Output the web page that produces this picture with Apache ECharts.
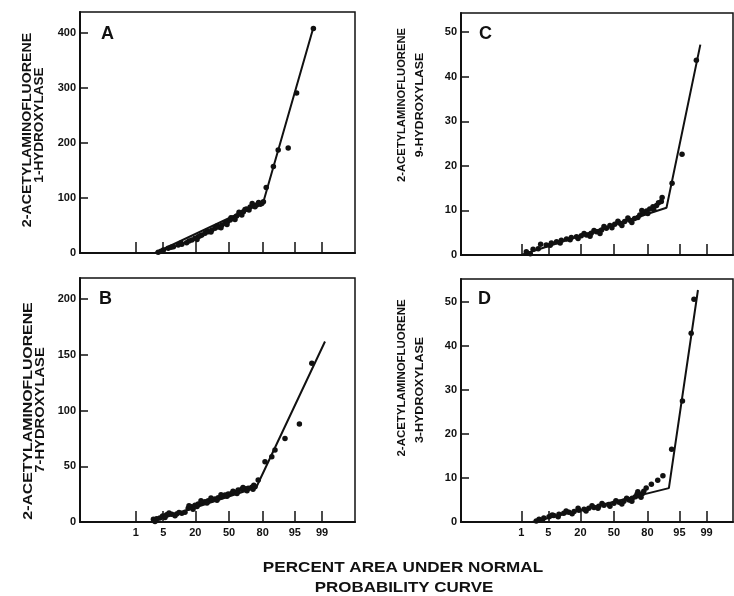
<!DOCTYPE html>
<html>
<head>
<meta charset="utf-8">
<script src="https://cdn.jsdelivr.net/npm/echarts@6.0.0/dist/echarts.min.js"></script>
<style>
  html, body { margin: 0; background: #fff; }
  #chart { width: 734px; height: 596px; }
</style>
</head>
<body>
<div id="chart"></div>
<script>
// x values are normal deviates (probit of the percent area), y values are enzyme activity
var percentTicks = [1, 5, 20, 50, 80, 95, 99];
var yTicksA = [0, 100, 200, 300, 400];
var yTicksB = [0, 50, 100, 150, 200];
var yTicksC = [0, 10, 20, 30, 40, 50];
var yTicksD = [0, 10, 20, 30, 40, 50];

// A: 1-hydroxylase
var pointsA = [
  [-1.77, 1.2], [-1.64, 5.5], [-1.52, 8.5], [-1.39, 11.5], [-1.27, 14.5], [-1.18, 15.8],
  [-1.06, 18.8], [-0.93, 23.6], [-0.85, 26.7], [-0.77, 29.7], [-0.68, 32.7], [-0.6, 35.8],
  [-0.52, 38.8], [-0.43, 41.8], [-0.35, 44.8], [-0.27, 47.3], [-0.18, 50.9], [-0.1, 53.9],
  [-0.04, 57], [0.03, 60], [0.11, 63], [0.19, 67.3], [0.28, 70.9], [0.36, 75], [0.44, 80],
  [0.53, 83.6], [0.61, 86], [0.69, 87.3], [0.78, 88.5], [0.86, 93],
  [-1.7, 3], [-1.45, 10.5], [-1.2, 18], [-1.0, 22], [-0.8, 24.5], [-0.72, 31.5],
  [-0.55, 40], [-0.45, 38], [-0.3, 49], [-0.2, 46], [-0.05, 52], [0.05, 64], [0.15, 61],
  [0.25, 74], [0.32, 69], [0.4, 79], [0.5, 78], [0.58, 90], [0.65, 84], [0.74, 92], [0.82, 90],
  [0.93, 119], [1.11, 157], [1.23, 187], [1.48, 191], [1.69, 291], [2.11, 408]
];
var fitA = [[-1.85, 0], [0.86, 93], [2.11, 410]];

// B: 7-hydroxylase
var pointsB = [
  [-1.89, 2.4], [-1.81, 3.0], [-1.73, 3.6], [-1.66, 5.4], [-1.56, 6.6], [-1.43, 6.9],
  [-1.31, 7.2], [-1.18, 7.8], [-1.1, 8.7], [-1.02, 12.3], [-0.93, 13.7], [-0.85, 15],
  [-0.77, 16.2], [-0.68, 17.3], [-0.6, 18.2], [-0.52, 19.1], [-0.43, 19.7], [-0.35, 20.6],
  [-0.27, 21.8], [-0.18, 22.7], [-0.1, 24.2], [-0.02, 25.1], [0.07, 25.7], [0.15, 26.6],
  [0.23, 28.7], [0.32, 29.3], [0.4, 29.9], [0.48, 30.2], [0.57, 31.1], [0.65, 31.7],
  [-1.85, 0.5], [-1.6, 4], [-1.5, 8], [-1.35, 5.5], [-1.25, 8.5], [-1.0, 14.5], [-0.9, 11.5],
  [-0.8, 14], [-0.7, 19], [-0.55, 17], [-0.45, 21.5], [-0.3, 19.5], [-0.2, 24.5], [-0.05, 23],
  [0.1, 27.5], [0.2, 25.5], [0.35, 31], [0.45, 28], [0.6, 29.5], [0.62, 33],
  [0.73, 37.7], [0.9, 54], [1.07, 58.6], [1.15, 64.6], [1.4, 75], [1.76, 88], [2.07, 142.4]
];
var fitB = [[-1.95, 0], [0.68, 31], [2.4, 162]];

// C: 9-hydroxylase
var pointsC = [
  [-2.2, 0.75], [-2.03, 1.27], [-1.84, 2.4], [-1.7, 2.24], [-1.57, 2.7], [-1.44, 3.0],
  [-1.32, 3.3], [-1.19, 3.6], [-1.07, 3.9], [-0.94, 4.1], [-0.82, 4.3], [-0.69, 4.5],
  [-0.57, 4.9], [-0.44, 5.2], [-0.31, 5.6], [-0.19, 6.0], [-0.1, 6.6], [0.02, 6.9],
  [0.15, 7.1], [0.27, 7.5], [0.4, 7.8], [0.52, 8.2], [0.65, 9.0], [0.73, 9.3], [0.82, 9.9],
  [0.9, 10.3], [0.98, 10.8], [1.07, 11.1], [1.19, 12.0],
  [-2.1, 0.3], [-1.9, 1.4], [-1.6, 2.2], [-1.35, 2.7], [-1.1, 3.4], [-0.9, 3.7], [-0.75, 4.8],
  [-0.6, 4.2], [-0.5, 5.5], [-0.35, 4.8], [-0.25, 6.4], [-0.05, 6.1], [0.1, 7.6], [0.2, 6.6],
  [0.35, 8.3], [0.45, 7.3], [0.6, 8.4], [0.7, 10], [0.85, 9.3], [1.0, 10.2], [1.12, 11.7],
  [1.21, 12.9], [1.46, 16.1], [1.71, 22.6], [2.07, 43.7]
];
var fitC = [[-2.33, 0], [1.32, 10.6], [2.17, 47.2]];

// D: 3-hydroxylase
var pointsD = [
  [-1.88, 0.6], [-1.76, 0.9], [-1.63, 1.2], [-1.51, 1.5], [-1.38, 1.75], [-1.26, 2.0],
  [-1.13, 2.2], [-1.0, 2.4], [-0.88, 2.65], [-0.75, 2.9], [-0.63, 3.1], [-0.5, 3.3],
  [-0.38, 3.6], [-0.25, 3.8], [-0.13, 4.0], [0, 4.25], [0.13, 4.5], [0.25, 4.7], [0.38, 5.0],
  [0.46, 5.4], [0.54, 5.75], [0.63, 6.0], [0.71, 6.4],
  [-1.95, 0.2], [-1.8, 0.4], [-1.55, 1.6], [-1.4, 1.2], [-1.2, 2.5], [-1.05, 1.9], [-0.9, 3.1],
  [-0.7, 2.5], [-0.55, 3.7], [-0.4, 3.1], [-0.3, 4.2], [-0.1, 3.6], [0.05, 4.8], [0.2, 4.1],
  [0.32, 5.4], [0.45, 4.7], [0.58, 6.3], [0.68, 5.6], [0.75, 7.0], [0.6, 6.9],
  [0.81, 7.7], [0.94, 8.6], [1.1, 9.5], [1.23, 10.5], [1.45, 16.5], [1.72, 27.5],
  [1.94, 42.9], [2.01, 50.6]
];
var fitD = [[-2.05, 0], [1.38, 7.7], [2.11, 52.7]];

var INK = '#111';
var FONT = 'Liberation Sans, Arial, sans-serif';

// inverse normal (Abramowitz & Stegun 26.2.23), p in (0,1)
function probit(p) {
  var q = p < 0.5 ? p : 1 - p;
  var t = Math.sqrt(-2 * Math.log(q));
  var z = t - (2.515517 + 0.802853 * t + 0.010328 * t * t) /
    (1 + 1.432788 * t + 0.189269 * t * t + 0.001308 * t * t * t);
  return p < 0.5 ? -z : z;
}
var tickZ = percentTicks.map(function (p) { return probit(p / 100); });

var panels = [
  { letter: 'A', grid: { left: 80, right: 379, top: 12, bottom: 343 }, xMin: -3.725, xMax: 3.15, yMax: 438, yTicks: yTicksA, points: pointsA, fit: fitA, xLabels: false },
  { letter: 'C', grid: { left: 461, right: 1, top: 13, bottom: 341 }, xMin: -3.84, xMax: 2.99, yMax: 54.3, yTicks: yTicksC, points: pointsC, fit: fitC, xLabels: false },
  { letter: 'B', grid: { left: 80, right: 379, top: 278, bottom: 74 }, xMin: -3.725, xMax: 3.15, yMax: 219, yTicks: yTicksB, points: pointsB, fit: fitB, xLabels: true },
  { letter: 'D', grid: { left: 461, right: 1, top: 279, bottom: 74 }, xMin: -3.84, xMax: 2.99, yMax: 55.2, yTicks: yTicksD, points: pointsD, fit: fitD, xLabels: true }
];

var grids = [], xAxes = [], yAxes = [], series = [];
panels.forEach(function (p, i) {
  grids.push(Object.assign({ show: true, borderColor: INK, borderWidth: 1.5, outerBoundsMode: 'none' }, p.grid));
  xAxes.push({
    type: 'value', gridIndex: i, min: p.xMin, max: p.xMax,
    axisLine: { show: true, onZero: false, lineStyle: { color: INK, width: 2 } },
    axisTick: { show: true, inside: true, length: 11, customValues: tickZ, lineStyle: { color: INK, width: 1.5 } },
    axisLabel: {
      show: p.xLabels, customValues: tickZ, margin: 5,
      color: INK, fontFamily: FONT, fontWeight: 'bold', fontSize: 11,
      formatter: function (v) {
        for (var k = 0; k < tickZ.length; k++) {
          if (Math.abs(tickZ[k] - v) < 1e-6) return String(percentTicks[k]);
        }
        return '';
      }
    },
    splitLine: { show: false }
  });
  yAxes.push({
    type: 'value', gridIndex: i, min: 0, max: p.yMax,
    axisLine: { show: true, onZero: false, lineStyle: { color: INK, width: 2 } },
    axisTick: { show: true, inside: true, length: 8, customValues: p.yTicks, lineStyle: { color: INK, width: 1.5 } },
    axisLabel: { customValues: p.yTicks, margin: 4, color: INK, fontFamily: FONT, fontWeight: 'bold', fontSize: 11 },
    splitLine: { show: false }
  });
  series.push({
    type: 'line', xAxisIndex: i, yAxisIndex: i, data: p.fit,
    showSymbol: false, silent: true,
    lineStyle: { color: INK, width: 2 }
  });
  series.push({
    type: 'scatter', xAxisIndex: i, yAxisIndex: i, data: p.points,
    symbolSize: 5.5, itemStyle: { color: INK, opacity: 1 }
  });
});

// rotated two-line axis titles and other text
function vText(text, x, y, size, stretch) {
  return {
    type: 'text', x: x, y: y, rotation: Math.PI / 2, scaleX: stretch,
    style: {
      text: text, font: 'bold ' + size + 'px ' + FONT, fill: INK,
      textAlign: 'center', textVerticalAlign: 'middle'
    }
  };
}
function hText(text, x, y, size, stretch) {
  return {
    type: 'text', x: x, y: y, scaleX: stretch || 1,
    style: {
      text: text, font: 'bold ' + size + 'px ' + FONT, fill: INK,
      textAlign: 'center', textVerticalAlign: 'middle'
    }
  };
}

var graphics = [
  vText('2-ACETYLAMINOFLUORENE', 28, 130, 12, 1.18),
  vText('1-HYDROXYLASE', 40, 125, 12, 1.13),
  vText('2-ACETYLAMINOFLUORENE', 29, 411, 12, 1.32),
  vText('7-HYDROXYLASE', 41, 410, 12, 1.23),
  vText('2-ACETYLAMINOFLUORENE', 402, 105, 10.5, 1.07),
  vText('9-HYDROXYLASE', 420, 105, 10.5, 1.17),
  vText('2-ACETYLAMINOFLUORENE', 402, 378, 10.5, 1.09),
  vText('3-HYDROXYLASE', 420, 390, 10.5, 1.19),
  hText('A', 107.5, 34, 18),
  hText('C', 485.5, 34, 18),
  hText('B', 105.5, 299, 18),
  hText('D', 484.5, 299, 18),
  hText('PERCENT AREA UNDER NORMAL', 403, 568, 15, 1.14),
  hText('PROBABILITY CURVE', 404, 588, 15, 1.13)
];

var myChart = echarts.init(document.getElementById('chart'));
myChart.setOption({
  animation: false,
  backgroundColor: '#fff',
  grid: grids,
  xAxis: xAxes,
  yAxis: yAxes,
  series: series,
  graphic: graphics
});
</script>
</body>
</html>
